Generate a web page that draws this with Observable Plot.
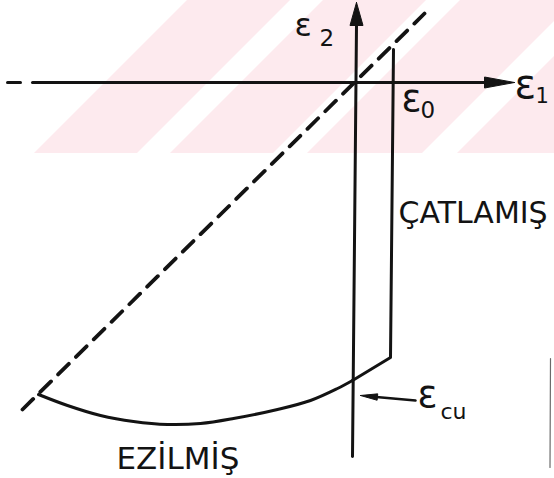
<!DOCTYPE html>
<html>
<head>
<meta charset="utf-8">
<script src="https://cdn.jsdelivr.net/npm/d3@7"></script>
<script src="https://cdn.jsdelivr.net/npm/@observablehq/plot@0.6"></script>
<style>
  html, body { margin: 0; padding: 0; background: #fff; }
  #chart svg { display: block; }
</style>
</head>
<body>
<div id="chart"></div>
<script>
// Strain plane (ε1, ε2): cracked / crushed limits of concrete.
// Coordinates are in drawing units (one unit = one grid step of the sketch).

const ink = "#131313";

// ε1 axis: a short lead dash, then the long run up to the arrowhead
const e1AxisFrom = [-34.9, -32.4];
const e1AxisTo   = [-33.6, 12.8];
const e1Tip = 15.8;

// ε2 axis (slightly leaning, as drawn)
const e2AxisX = [-0.4, 0.0];
const e2AxisY = [-37.4, 5.7];
const e2Tip = 8.0;

// Dashed line ε1 = ε2
const diagX = [-33.4, 6.8];
const diagY = [-32.7, 6.9];

// Cracking limit: vertical at ε0, then the knee down to the ε2 axis
const crackX = [3.7, 3.4, -0.4];
const crackY = [3.3, -27.5, -29.8];

// Crushing limit curve from the ε2 axis back to the dashed line
const crushX = [-0.4, -1.9, -4.6, -7.9, -12.3, -15.6, -18.9, -22.3, -25.6, -28.9, -31.8];
const crushY = [-29.8, -30.6, -31.8, -32.7, -33.6, -34.1, -34.2, -33.9, -33.3, -32.3, -31.2];

// Pointer to εcu
const ecuTail = [5.9, -31.8];
const ecuTip  = [0.4, -31.3];

// Labels
const labelText = ["ε", "2", "ε", "1", "ε", "0", "ε", "cu", "ÇATLAMIŞ", "EZİLMİŞ"];
const labelX    = [-6.2, -3.7, 15.8, 17.9, 4.5, 6.4, 6.1, 8.4, 4.2, -24.0];
const labelY    = [4.7, 3.7, -1.5, -2.0, -2.8, -3.5, -32.4, -33.6, -14.0, -38.6];
const labelSize = [32, 23, 40, 21, 37, 23, 37, 22, 30, 31];

// Light diagonal background bands, given as ranges of (ε1 − ε2)
const bandFrom = [-25.1, -11.5, 2.2, 17.2];
const bandTo   = [-14.8, -1.2, 13.7, 40.0];
const bandTop = 8.2, bandBottom = -7.1;

// Thin rule at the right edge
const ruleX = [19.4, 19.35];
const ruleY = [-27.6, -38.5];

// ---- derived tables ----
const pts = (xs, ys) => xs.map((x, i) => ({x, y: ys[i]}));

const e1Axis = e1AxisFrom.flatMap((x0, i) => [{x: x0, y: 0, k: i}, {x: e1AxisTo[i], y: 0, k: i}]);

// filled triangular arrowhead from tip, unit direction, length and half width
function head(tx, ty, dx, dy, len, hw, k) {
  const bx = tx - dx * len, by = ty - dy * len;
  const nx = -dy, ny = dx;
  return [
    {x: tx, y: ty, k},
    {x: bx + nx * hw, y: by + ny * hw, k},
    {x: bx - nx * hw, y: by - ny * hw, k},
    {x: tx, y: ty, k}
  ];
}

// εcu pointer: shaft ends where its arrowhead begins
const cuDX = ecuTip[0] - ecuTail[0], cuDY = ecuTip[1] - ecuTail[1];
const cuLen = Math.hypot(cuDX, cuDY);
const cuUX = cuDX / cuLen, cuUY = cuDY / cuLen;
const cuHead = 1.7;
const cuShaft = [
  {x: ecuTail[0], y: ecuTail[1]},
  {x: ecuTip[0] - cuUX * (cuHead - 0.4), y: ecuTip[1] - cuUY * (cuHead - 0.4)}
];

const heads = [
  ...head(e1Tip, 0, 1, 0, e1Tip - e1AxisTo[1], 0.55, "e1"),
  ...head(e2AxisX[1], e2Tip, 0, 1, e2Tip - e2AxisY[1], 0.65, "e2"),
  ...head(ecuTip[0], ecuTip[1], cuUX, cuUY, cuHead, 0.32, "cu")
];

const bands = bandFrom.flatMap((k0, i) => [
  {y: bandTop, x1: k0 + bandTop, x2: bandTo[i] + bandTop, b: i},
  {y: bandBottom, x1: k0 + bandBottom, x2: bandTo[i] + bandBottom, b: i}
]);

const labels = labelText.map((t, i) => ({t, x: labelX[i], y: labelY[i], s: labelSize[i]}));

const chart = Plot.plot({
  width: 554,
  height: 478,
  margin: 0,
  style: {background: "#fff", overflow: "visible"},
  x: {domain: [-35.6, 19.8], axis: null},
  y: {domain: [-39.6, 8.2], axis: null},
  marks: [
    Plot.areaX(bands, {y: "y", x1: "x1", x2: "x2", z: "b", fill: "#fdeaee", clip: true}),
    Plot.line(pts(ruleX, ruleY), {x: "x", y: "y", stroke: "#6a6a6a", strokeWidth: 1.2}),
    Plot.line(e1Axis, {x: "x", y: "y", z: "k", stroke: ink, strokeWidth: 3, strokeLinecap: "round"}),
    Plot.line(pts(e2AxisX, e2AxisY), {x: "x", y: "y", stroke: ink, strokeWidth: 3, strokeLinecap: "round"}),
    Plot.line(pts(diagX, diagY), {x: "x", y: "y", stroke: ink, strokeWidth: 3.8, strokeDasharray: "15,10", strokeLinecap: "round"}),
    Plot.line(pts(crackX, crackY), {x: "x", y: "y", stroke: ink, strokeWidth: 3, strokeLinejoin: "round"}),
    Plot.line(pts(crushX, crushY), {x: "x", y: "y", stroke: ink, strokeWidth: 3, curve: "catmull-rom", strokeLinecap: "round"}),
    Plot.line(cuShaft, {x: "x", y: "y", stroke: ink, strokeWidth: 2.6}),
    Plot.line(heads, {x: "x", y: "y", z: "k", fill: ink, stroke: ink, strokeWidth: 1, strokeLinejoin: "round"}),
    Plot.text(labels, {
      x: "x", y: "y", text: "t", fontSize: "s",
      textAnchor: "start", lineAnchor: "bottom",
      fontFamily: "DejaVu Sans", fill: ink
    })
  ]
});

document.getElementById("chart").append(chart);
</script>
</body>
</html>
